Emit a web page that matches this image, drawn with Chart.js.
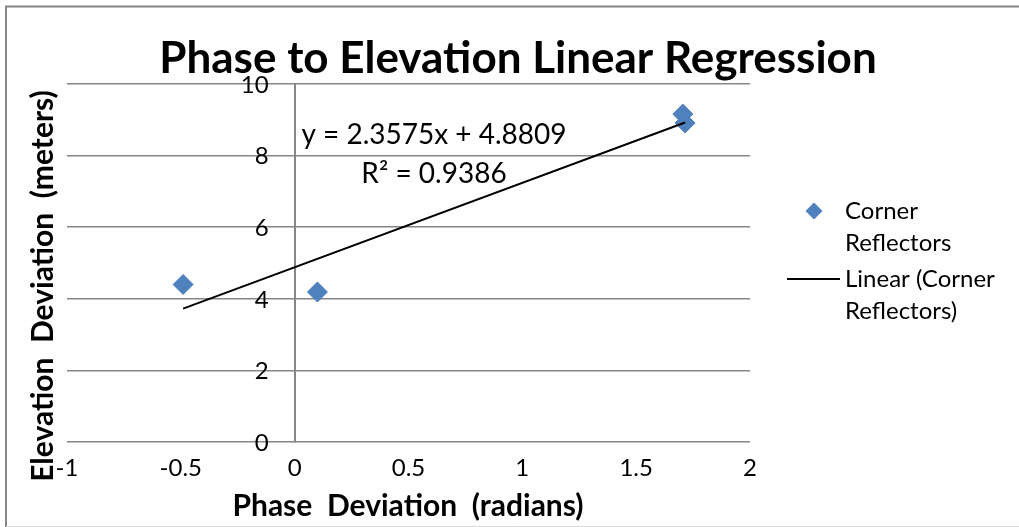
<!DOCTYPE html>
<html>
<head>
<meta charset="utf-8">
<script src="https://cdn.jsdelivr.net/npm/chart.js@4"></script>
<style>
  html, body { margin: 0; padding: 0; background: #fff; }
  #wrap { width: 1019px; height: 527px; position: relative; }
</style>
</head>
<body>
<div id="wrap"><canvas id="chart"></canvas></div>
<script>
// Measured corner reflector deviations
const phaseDeviation = [-0.49, 0.10, 1.705, 1.715];      // radians
const elevationDeviation = [4.40, 4.19, 9.16, 8.91];     // meters

// Least-squares fit of elevation on phase
const fitSlope = 2.3575;
const fitIntercept = 4.8809;
const fitR2 = 0.9386;

// Axis ticks
const xTickValues = [-1, -0.5, 0, 0.5, 1, 1.5, 2];
const yTickValues = [0, 2, 4, 6, 8, 10];

// Text
const chartTitle = 'Phase to Elevation Linear Regression';
const xAxisTitle = 'Phase  Deviation  (radians)';
const yAxisTitle = 'Elevation  Deviation  (meters)';
const seriesLabels = ['Corner Reflectors', 'Linear (Corner Reflectors)'];

const FONT = 'Lato, "Open Sans", sans-serif';
const MARKER_COLOR = '#4F81BD';
const GRID_COLOR = '#868686';
const TICK_SIZE = 24;

const points = phaseDeviation.map((x, i) => ({ x: x, y: elevationDeviation[i] }));
const xLo = Math.min(...phaseDeviation);
const xHi = Math.max(...phaseDeviation);
const trend = [xLo, xHi].map(x => ({ x: x, y: fitSlope * x + fitIntercept }));

const equationLines = [
  'y = ' + fitSlope + 'x + ' + fitIntercept,
  'R\u00B2 = ' + fitR2
];

// Split a label into lines no wider than maxWidth
function wrapText(ctx, text, maxWidth) {
  const words = text.split(' ');
  const lines = [];
  let cur = '';
  words.forEach(w => {
    const test = cur ? cur + ' ' + w : w;
    if (cur && ctx.measureText(test).width > maxWidth) {
      lines.push(cur);
      cur = w;
    } else {
      cur = test;
    }
  });
  if (cur) lines.push(cur);
  return lines;
}

const decorations = {
  id: 'decorations',
  beforeDraw(chart) {
    const ctx = chart.ctx;
    ctx.save();
    ctx.fillStyle = '#fff';
    ctx.fillRect(0, 0, chart.width, chart.height);
    ctx.restore();
  },
  afterDraw(chart) {
    const ctx = chart.ctx;
    const area = chart.chartArea;
    const xs = chart.scales.x;
    const ys = chart.scales.y;
    ctx.save();

    // frame
    ctx.strokeStyle = GRID_COLOR;
    ctx.lineWidth = 2;
    ctx.beginPath();
    ctx.moveTo(6, chart.height);
    ctx.lineTo(6, 6.5);
    ctx.lineTo(chart.width, 6.5);
    ctx.stroke();
    ctx.strokeStyle = '#d9d9d9';
    ctx.lineWidth = 1;
    ctx.beginPath();
    ctx.moveTo(6, 526.5);
    ctx.lineTo(chart.width, 526.5);
    ctx.stroke();

    ctx.fillStyle = '#000';

    // y tick labels sit beside the vertical axis at x = 0
    ctx.font = TICK_SIZE + 'px ' + FONT;
    ctx.textAlign = 'right';
    ctx.textBaseline = 'middle';
    const axisX = xs.getPixelForValue(0);
    ys.ticks.forEach(t => {
      ctx.fillText(String(t.value), axisX - 26, ys.getPixelForValue(t.value) + 1);
    });

    ctx.textBaseline = 'alphabetic';
    ctx.textAlign = 'center';

    // title
    ctx.font = 'bold 44px ' + FONT;
    ctx.fillText(chartTitle, 518, area.top - 11);

    // x axis title
    ctx.font = 'bold 30px ' + FONT;
    ctx.fillText(xAxisTitle, 408, 516);

    // y axis title
    ctx.save();
    ctx.translate(53, 286);
    ctx.rotate(-Math.PI / 2);
    ctx.fillText(yAxisTitle, 0, 0);
    ctx.restore();

    // trendline equation
    ctx.font = '28px ' + FONT;
    ctx.fillText(equationLines[0], 434, 144);
    ctx.fillText(equationLines[1], 434, 183);

    // legend
    ctx.font = '24px ' + FONT;
    ctx.textAlign = 'left';
    const textX = 845;
    const lineH = 32;
    let baseY = 219;
    chart.data.datasets.slice().reverse().forEach(ds => {
      const lines = wrapText(ctx, ds.label, 165);
      const midY = baseY - 8;
      if (ds.showLine) {
        ctx.strokeStyle = ds.borderColor;
        ctx.lineWidth = ds.borderWidth;
        ctx.beginPath();
        ctx.moveTo(787, midY);
        ctx.lineTo(840, midY);
        ctx.stroke();
      } else {
        const r = 8.5, cx = 814;
        ctx.fillStyle = ds.backgroundColor;
        ctx.beginPath();
        ctx.moveTo(cx - r, midY);
        ctx.lineTo(cx, midY - r);
        ctx.lineTo(cx + r, midY);
        ctx.lineTo(cx, midY + r);
        ctx.closePath();
        ctx.fill();
      }
      ctx.fillStyle = '#000';
      lines.forEach((ln, i) => ctx.fillText(ln, textX, baseY + i * lineH));
      baseY += (lines.length - 1) * lineH + 36;
    });

    ctx.restore();
  }
};

new Chart(document.getElementById('chart'), {
  type: 'scatter',
  data: {
    datasets: [
      {
        label: seriesLabels[1],
        data: trend,
        showLine: true,
        borderColor: '#000',
        borderWidth: 2,
        pointRadius: 0,
        fill: false
      },
      {
        label: seriesLabels[0],
        data: points,
        pointStyle: 'rectRot',
        pointRadius: 10,
        backgroundColor: MARKER_COLOR,
        borderColor: MARKER_COLOR,
        borderWidth: 1
      }
    ]
  },
  options: {
    responsive: true,
    maintainAspectRatio: false,
    animation: false,
    events: [],
    layout: { padding: { left: 67, right: 269, top: 84, bottom: 0 } },
    plugins: {
      legend: { display: false },
      title: { display: false },
      tooltip: { enabled: false }
    },
    scales: {
      x: {
        type: 'linear',
        min: -1,
        max: 2,
        afterBuildTicks: s => { s.ticks = xTickValues.map(v => ({ value: v })); },
        afterFit: s => { s.height = 85; },
        ticks: {
          font: { family: FONT, size: TICK_SIZE },
          color: '#000',
          padding: 12,
          maxRotation: 0,
          autoSkip: false,
          callback: v => String(v)
        },
        grid: { display: false, drawTicks: false },
        border: { display: false }
      },
      y: {
        type: 'linear',
        min: 0,
        max: 10,
        position: { x: 0 },
        afterBuildTicks: s => { s.ticks = yTickValues.map(v => ({ value: v })); },
        ticks: { display: false },
        grid: { color: GRID_COLOR, lineWidth: 1.5, drawTicks: false },
        border: { color: GRID_COLOR, width: 2 }
      }
    }
  },
  plugins: [decorations]
});
</script>
</body>
</html>
